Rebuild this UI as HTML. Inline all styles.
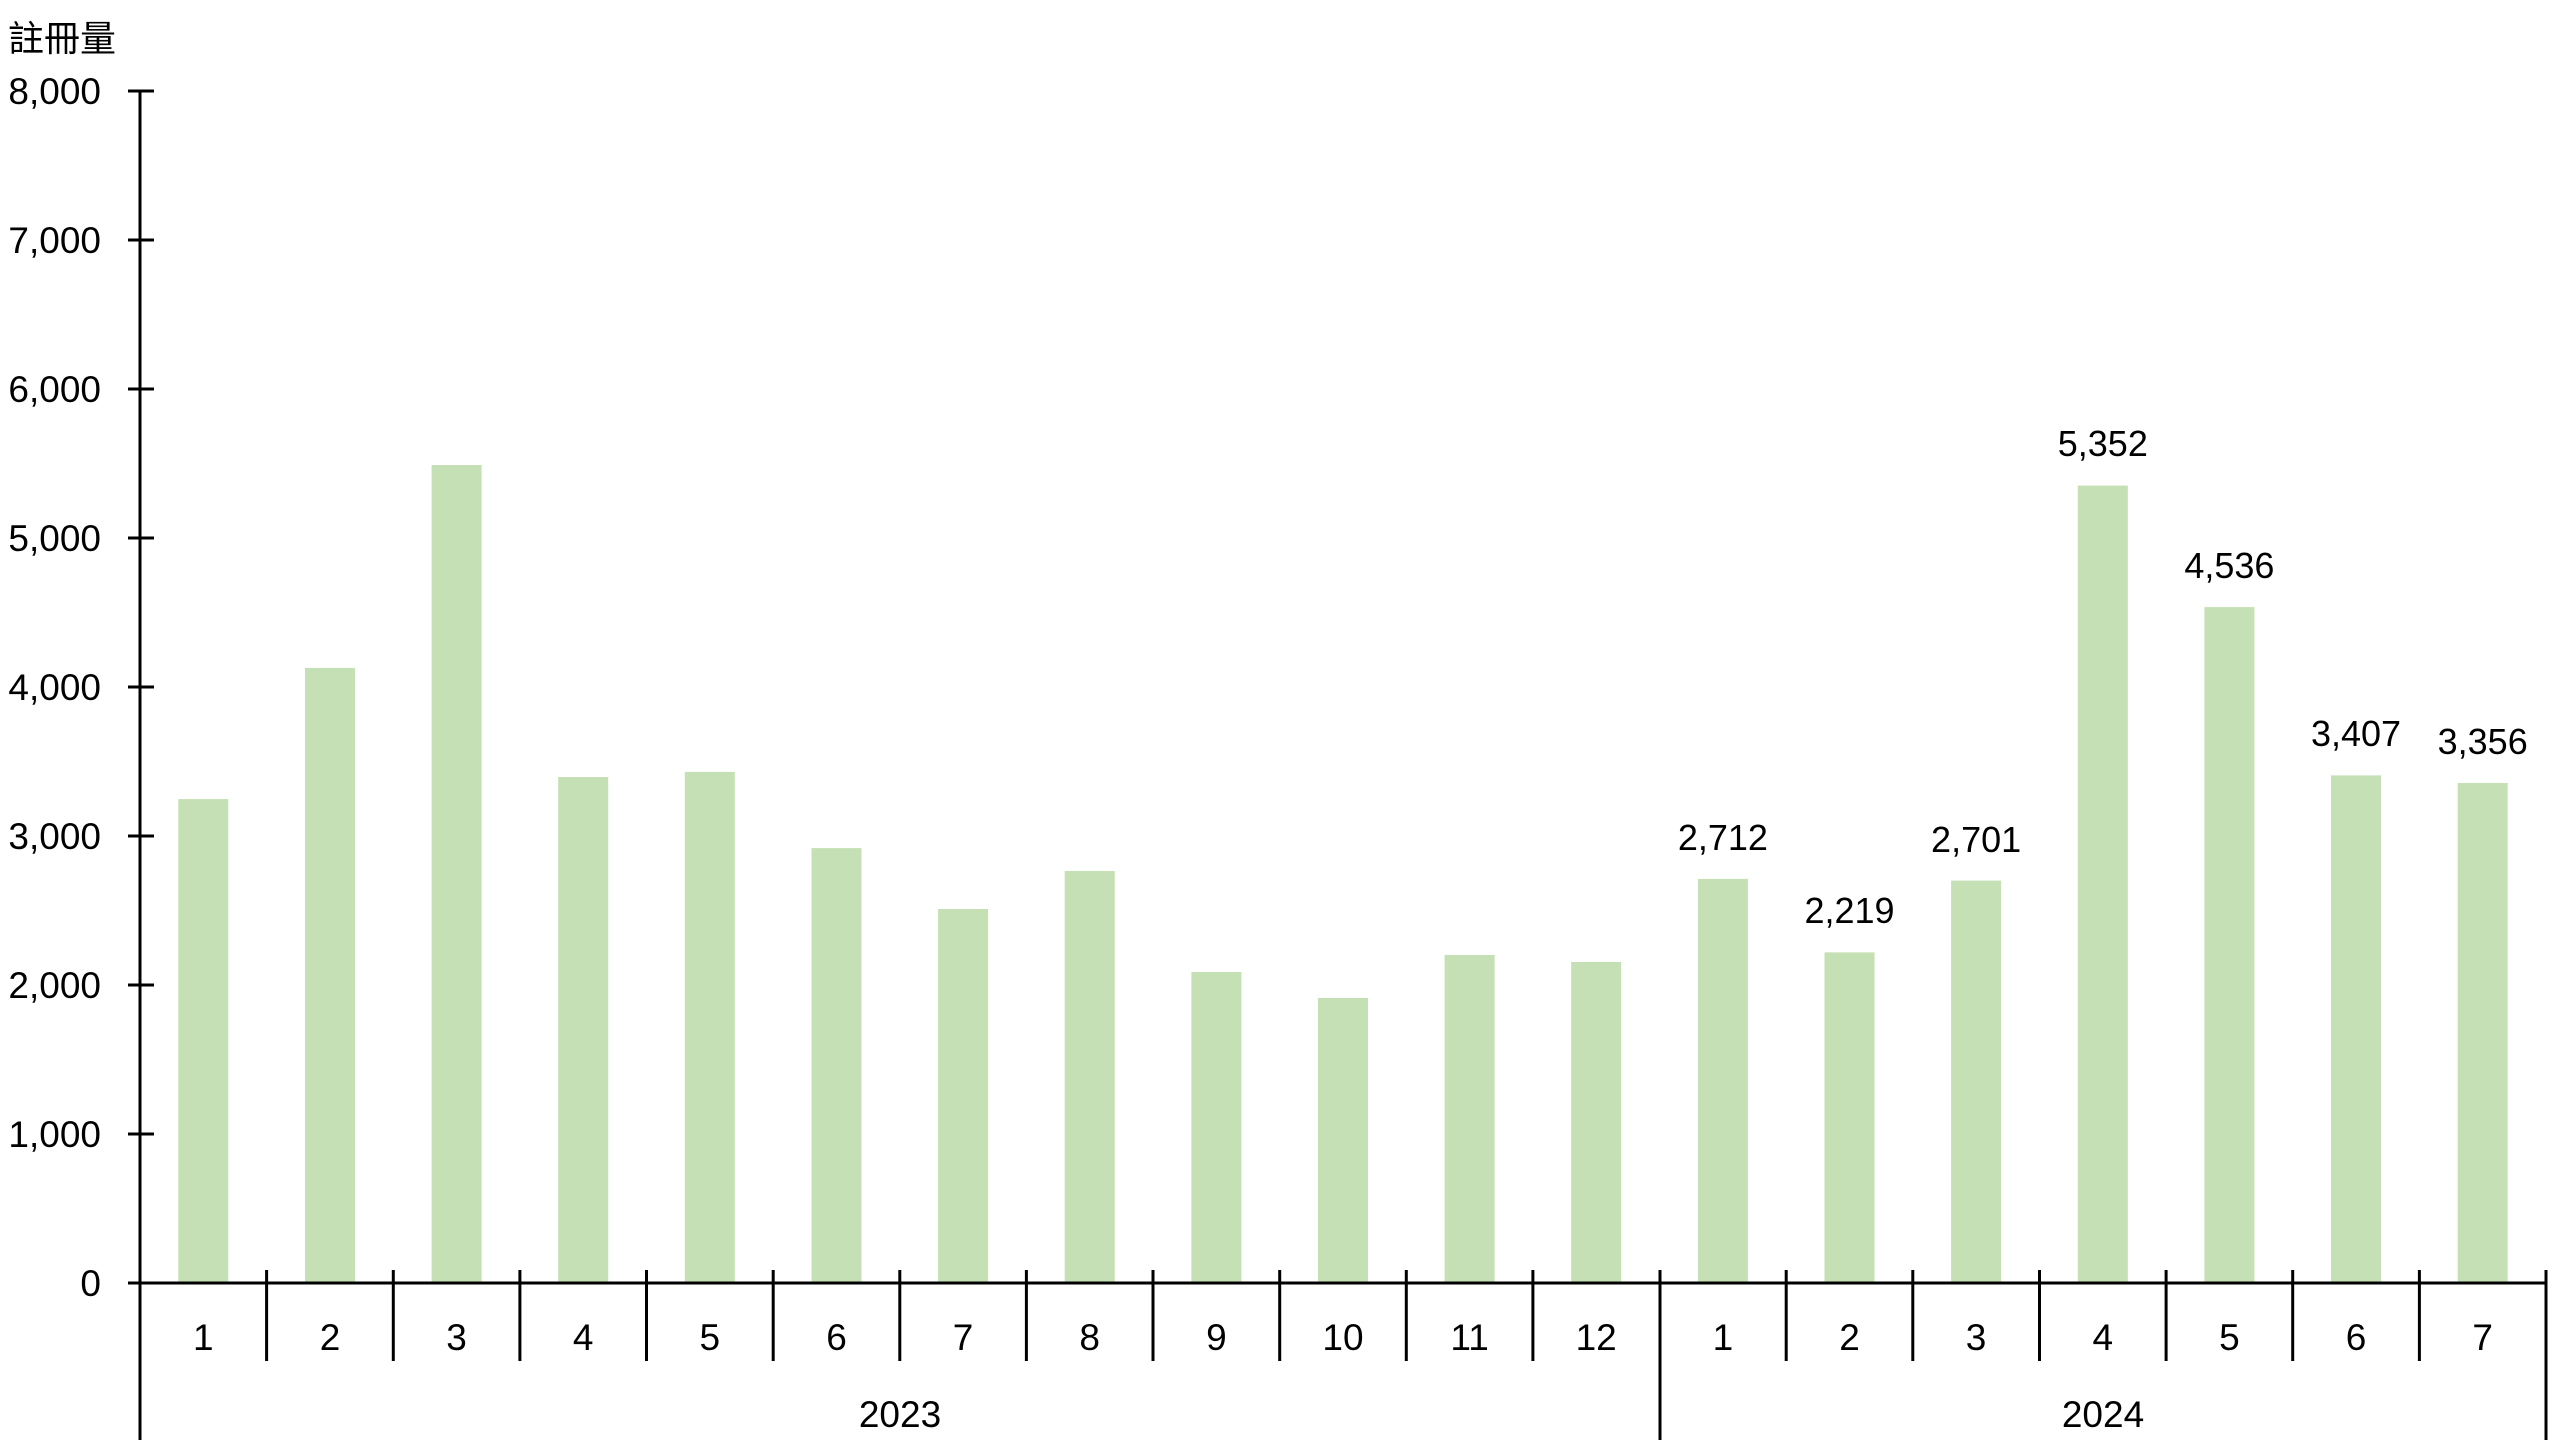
<!DOCTYPE html>
<html><head><meta charset="utf-8"><style>
html,body{margin:0;padding:0;background:#fff;}
svg{display:block;}
text{font-family:"Liberation Sans","Noto Sans CJK TC",sans-serif;fill:#000;}
</style></head><body>
<svg width="2560" height="1440" viewBox="0 0 2560 1440" xmlns="http://www.w3.org/2000/svg">
<rect width="2560" height="1440" fill="#fff"/>
<text x="8" y="51" font-size="36" style="font-family:'Noto Sans CJK TC','Noto Sans CJK SC',sans-serif">註冊量</text>
<g font-size="37" text-anchor="end">
<text x="101" y="104">8,000</text>
<text x="101" y="253">7,000</text>
<text x="101" y="402">6,000</text>
<text x="101" y="551">5,000</text>
<text x="101" y="700">4,000</text>
<text x="101" y="849">3,000</text>
<text x="101" y="998">2,000</text>
<text x="101" y="1147">1,000</text>
<text x="101" y="1296">0</text>
</g>
<g fill="#C5E0B4">
<rect x="178.3" y="799.1" width="50" height="483.9"/>
<rect x="305" y="667.9" width="50" height="615.1"/>
<rect x="431.6" y="465" width="50" height="818"/>
<rect x="558.2" y="777" width="50" height="506"/>
<rect x="684.8" y="771.9" width="50" height="511.1"/>
<rect x="811.5" y="848.1" width="50" height="434.9"/>
<rect x="938.1" y="909" width="50" height="374"/>
<rect x="1064.7" y="871" width="50" height="412"/>
<rect x="1191.4" y="972" width="50" height="311"/>
<rect x="1318" y="998" width="50" height="285"/>
<rect x="1444.6" y="955" width="50" height="328"/>
<rect x="1571.2" y="962" width="50" height="321"/>
<rect x="1697.9" y="878.9" width="50" height="404.1"/>
<rect x="1824.5" y="952.4" width="50" height="330.6"/>
<rect x="1951.1" y="880.6" width="50" height="402.4"/>
<rect x="2077.8" y="485.6" width="50" height="797.4"/>
<rect x="2204.4" y="607.1" width="50" height="675.9"/>
<rect x="2331" y="775.4" width="50" height="507.6"/>
<rect x="2457.7" y="783" width="50" height="500"/>
</g>
<g font-size="36" text-anchor="middle">
<text x="1722.9" y="850">2,712</text>
<text x="1849.5" y="923">2,219</text>
<text x="1976.1" y="852">2,701</text>
<text x="2102.8" y="456">5,352</text>
<text x="2229.4" y="578">4,536</text>
<text x="2356" y="746">3,407</text>
<text x="2482.7" y="754">3,356</text>
</g>
<g stroke="#000" stroke-width="3" fill="none">
<line x1="140" y1="91" x2="140" y2="1440"/>
<line x1="128" y1="1283" x2="2547" y2="1283"/>
<line x1="128" y1="91" x2="154" y2="91"/>
<line x1="128" y1="240" x2="154" y2="240"/>
<line x1="128" y1="389" x2="154" y2="389"/>
<line x1="128" y1="538" x2="154" y2="538"/>
<line x1="128" y1="687" x2="154" y2="687"/>
<line x1="128" y1="836" x2="154" y2="836"/>
<line x1="128" y1="985" x2="154" y2="985"/>
<line x1="128" y1="1134" x2="154" y2="1134"/>
<line x1="266.6" y1="1270" x2="266.6" y2="1361"/>
<line x1="393.3" y1="1270" x2="393.3" y2="1361"/>
<line x1="519.9" y1="1270" x2="519.9" y2="1361"/>
<line x1="646.5" y1="1270" x2="646.5" y2="1361"/>
<line x1="773.2" y1="1270" x2="773.2" y2="1361"/>
<line x1="899.8" y1="1270" x2="899.8" y2="1361"/>
<line x1="1026.4" y1="1270" x2="1026.4" y2="1361"/>
<line x1="1153" y1="1270" x2="1153" y2="1361"/>
<line x1="1279.7" y1="1270" x2="1279.7" y2="1361"/>
<line x1="1406.3" y1="1270" x2="1406.3" y2="1361"/>
<line x1="1532.9" y1="1270" x2="1532.9" y2="1361"/>
<line x1="1660" y1="1270" x2="1660" y2="1440"/>
<line x1="1786.2" y1="1270" x2="1786.2" y2="1361"/>
<line x1="1912.8" y1="1270" x2="1912.8" y2="1361"/>
<line x1="2039.5" y1="1270" x2="2039.5" y2="1361"/>
<line x1="2166.1" y1="1270" x2="2166.1" y2="1361"/>
<line x1="2292.7" y1="1270" x2="2292.7" y2="1361"/>
<line x1="2419.4" y1="1270" x2="2419.4" y2="1361"/>
<line x1="2546" y1="1270" x2="2546" y2="1440"/>
</g>
<g font-size="37" text-anchor="middle">
<text x="203.3" y="1350">1</text>
<text x="330" y="1350">2</text>
<text x="456.6" y="1350">3</text>
<text x="583.2" y="1350">4</text>
<text x="709.8" y="1350">5</text>
<text x="836.5" y="1350">6</text>
<text x="963.1" y="1350">7</text>
<text x="1089.7" y="1350">8</text>
<text x="1216.4" y="1350">9</text>
<text x="1343" y="1350">10</text>
<text x="1469.6" y="1350">11</text>
<text x="1596.2" y="1350">12</text>
<text x="1722.9" y="1350">1</text>
<text x="1849.5" y="1350">2</text>
<text x="1976.1" y="1350">3</text>
<text x="2102.8" y="1350">4</text>
<text x="2229.4" y="1350">5</text>
<text x="2356" y="1350">6</text>
<text x="2482.7" y="1350">7</text>
<text x="900" y="1427">2023</text>
<text x="2103" y="1427">2024</text>
</g>
</svg>
</body></html>
